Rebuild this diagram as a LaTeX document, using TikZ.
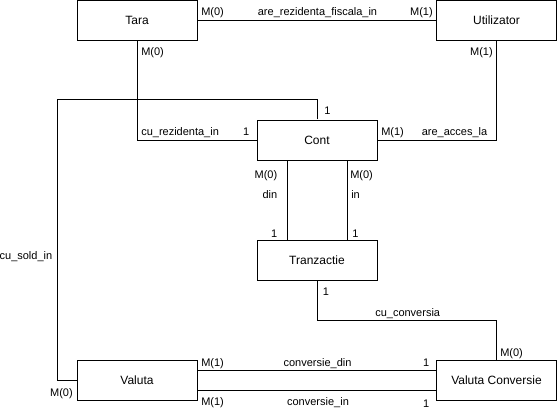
\documentclass[tikz,border=0pt]{standalone}
\usepackage{fontspec}
\setmainfont{Liberation Sans}
\usetikzlibrary{calc}
\begin{document}
\begin{tikzpicture}[x=0.75pt,y=-0.75pt,
  box/.style={draw, line width=0.75pt, minimum width=90pt, minimum height=30pt, inner sep=0pt, font=\fontsize{9}{11}\selectfont},
  lbl/.style={inner sep=0pt, font=\fontsize{8.25}{10}\selectfont},
  conn/.style={draw, line width=0.75pt}]
\useasboundingbox (0,0) rectangle (557,410);
\node[box] (tara) at (137,20.5) {Tara};
\node[box] (util) at (496.5,20.5) {Utilizator};
\node[box] (cont) at (317,140) {Cont};
\node[box] (tranz) at (317,260) {Tranzactie};
\node[box] (valuta) at (137,380) {Valuta};
\node[box] (vc) at (496.5,380) {Valuta Conversie};
\coordinate (s1) at (57,100);
% connectors
\draw[conn] (tara.east) -- (util.west);
\draw[conn] (tara.south) |- (cont.west);
\draw[conn] (util.south) |- (cont.east);
\draw[conn] (cont.north) -- (cont.north |- s1) -- (s1) |- (valuta.west);
\draw[conn] ($(cont.south)+(-30,0)$) -- ($(tranz.north)+(-30,0)$);
\draw[conn] ($(cont.south)+(30,0)$) -- ($(tranz.north)+(30,0)$);
\draw[conn] (tranz.south) -- ++(0,40) -| (vc.north);
\draw[conn] ($(valuta.east)+(0,-10)$) -- ($(vc.west)+(0,-10)$);
\draw[conn] ($(valuta.east)+(0,10)$) -- ($(vc.west)+(0,10)$);
% labels
\node[lbl, anchor=base west] (l1) at (201,16) {M(0)};
\node[lbl, anchor=base] (l2) at (317.5,16) {are\_rezidenta\_fiscala\_in};
\node[lbl, anchor=base east] (l3) at (433,16) {M(1)};
\node[lbl, anchor=base west] (l4) at (141,56) {M(0)};
\node[lbl, anchor=base east] (l5) at (493,56) {M(1)};
\node[lbl, anchor=base west] (l6) at (324,114) {1};
\node[lbl, anchor=base west] (l7) at (141,136) {cu\_rezidenta\_in};
\node[lbl, anchor=base east] (l8) at (249.5,136) {1};
\node[lbl, anchor=base west] (l9) at (381,136) {M(1)};
\node[lbl, anchor=base west] (l10) at (421.5,136) {are\_acces\_la};
\node[lbl, anchor=base east] (l11) at (277.5,178) {M(0)};
\node[lbl, anchor=base west] (l12) at (350,178) {M(0)};
\node[lbl, anchor=base east] (l13) at (277.5,198) {din};
\node[lbl, anchor=base west] (l14) at (351,198) {in};
\node[lbl, anchor=base east] (l15) at (277.5,237) {1};
\node[lbl, anchor=base west] (l16) at (352,237) {1};
\node[lbl, anchor=base east] (l17) at (52.5,259) {cu\_sold\_in};
\node[lbl, anchor=base west] (l18) at (322.5,295) {1};
\node[lbl, anchor=base west] (l19) at (375,316) {cu\_conversia};
\node[lbl, anchor=base west] (l20) at (500,356) {M(0)};
\node[lbl, anchor=base west] (l21) at (201,366) {M(1)};
\node[lbl, anchor=base] (l22) at (317.5,366) {conversie\_din};
\node[lbl, anchor=base east] (l23) at (429.5,366) {1};
\node[lbl, anchor=base east] (l24) at (73,396) {M(0)};
\node[lbl, anchor=base west] (l25) at (201,405) {M(1)};
\node[lbl, anchor=base] (l26) at (318,405) {conversie\_in};
\node[lbl, anchor=base east] (l27) at (429.5,407) {1};
\end{tikzpicture}
\end{document}
